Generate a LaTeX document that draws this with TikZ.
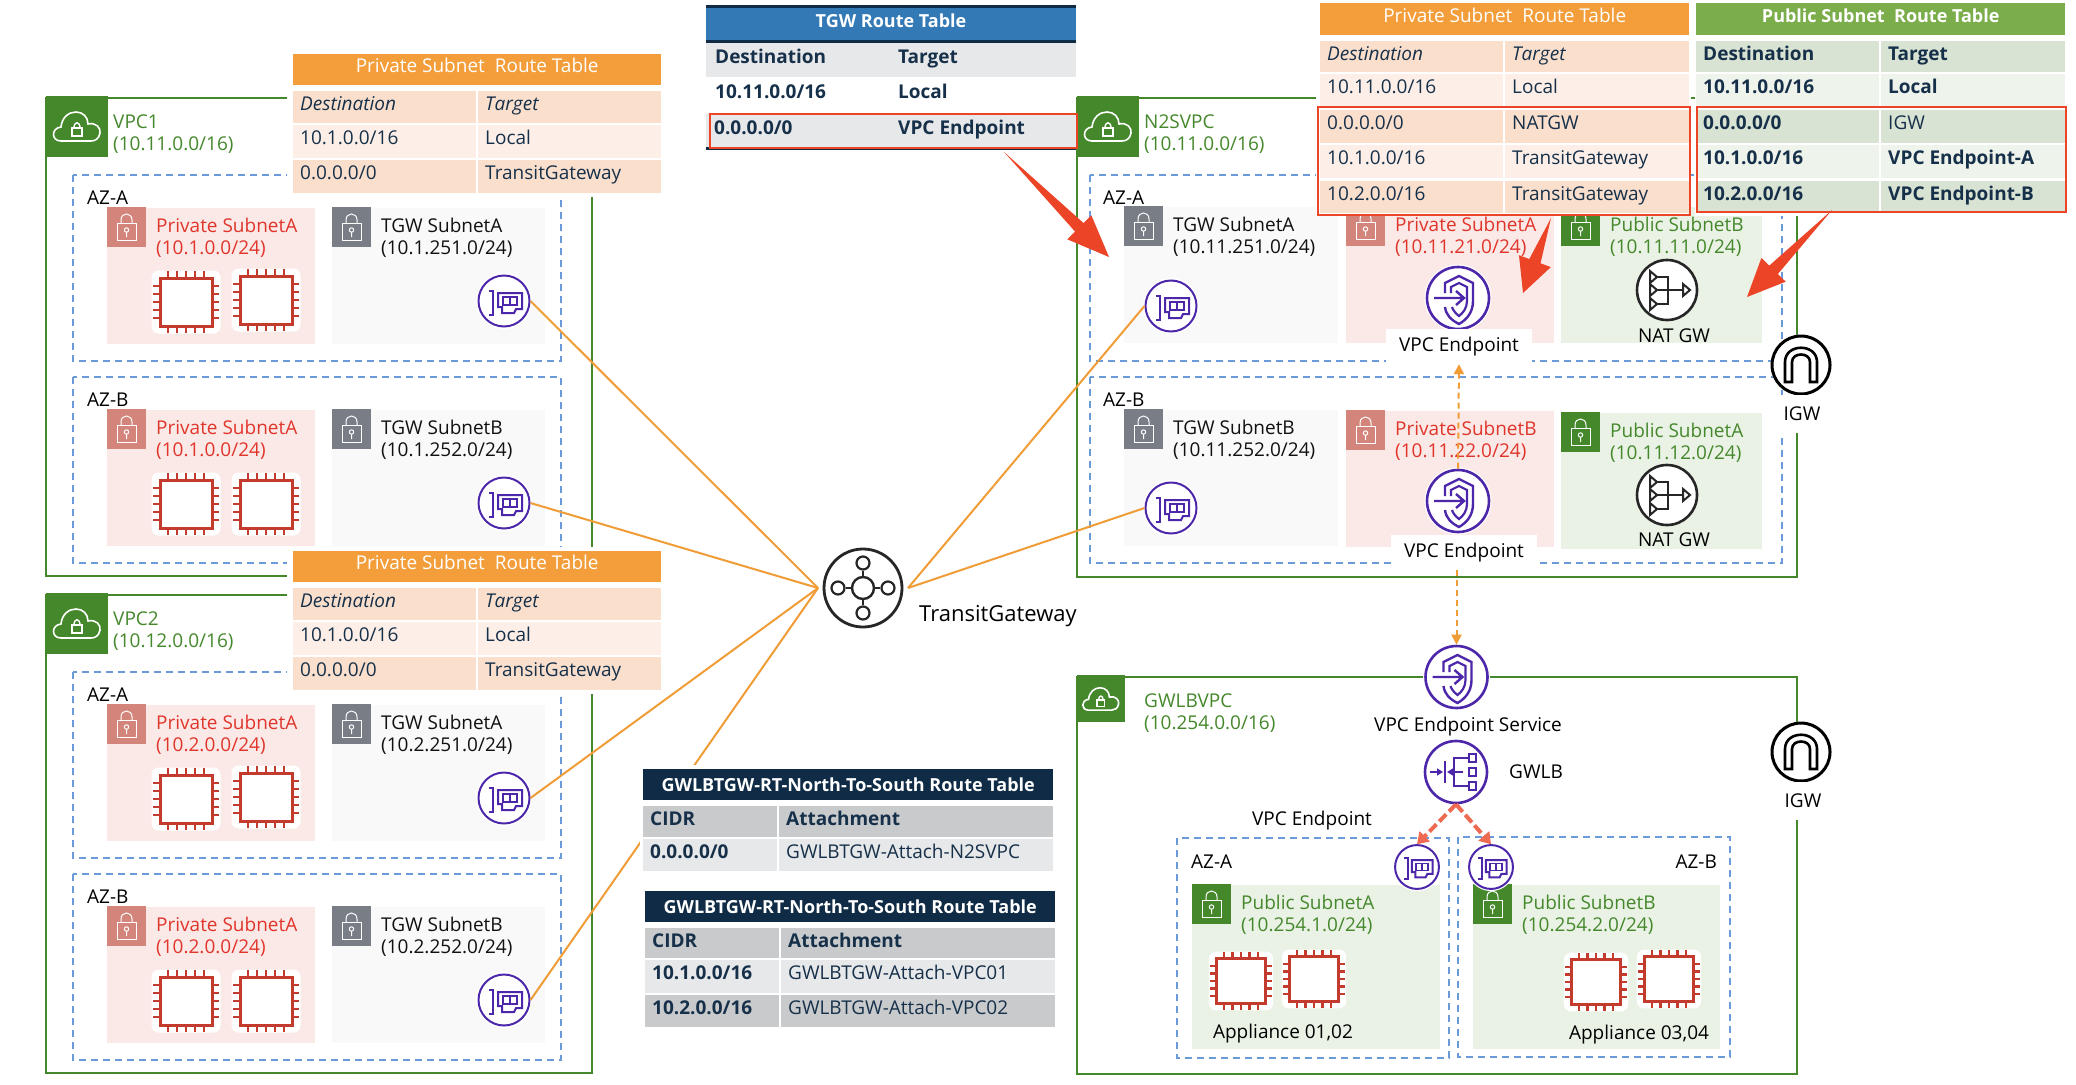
\documentclass[tikz,border=0pt]{standalone}
\usepackage{fontspec}
\setmainfont{Open Sans}
\usetikzlibrary{arrows.meta,calc}

\definecolor{vpcgreen}{HTML}{45882C}
\definecolor{azblue}{HTML}{6A9BD8}
\definecolor{privbg}{HTML}{FBE9E7}
\definecolor{privlock}{HTML}{D3847B}
\definecolor{privtext}{HTML}{E0352B}
\definecolor{tgwbg}{HTML}{F9F9F9}
\definecolor{tgwlock}{HTML}{797D86}
\definecolor{tgwtext}{HTML}{111111}
\definecolor{pubbg}{HTML}{EAF2E6}
\definecolor{publock}{HTML}{45882C}
\definecolor{pubtext}{HTML}{45882C}
\definecolor{eniviolet}{HTML}{4D27AA}
\definecolor{chipred}{HTML}{C23B2C}
\definecolor{linkorange}{HTML}{F09C37}
\definecolor{calloutred}{HTML}{EC4427}
\definecolor{lbred}{HTML}{EE6A52}
\definecolor{rtink}{HTML}{16304A}
\definecolor{orangehead}{HTML}{F39E3A}
\definecolor{orangedark}{HTML}{FADFCD}
\definecolor{orangelight}{HTML}{FDEFE7}
\definecolor{greenhead}{HTML}{7BAD4B}
\definecolor{greendark}{HTML}{D9E3D3}
\definecolor{greenlight}{HTML}{EEF3EB}
\definecolor{tgwhead}{HTML}{3379B5}
\definecolor{navyhead}{HTML}{0F2B45}
\definecolor{greydark}{HTML}{C9CACC}
\definecolor{greylight}{HTML}{E7E8EA}

\tikzset{
  vpcline/.style={draw=vpcgreen, line width=2.6pt},
  azline/.style={draw=azblue, line width=2pt, dash pattern=on 7pt off 5pt},
  linkline/.style={draw=linkorange, line width=2pt},
  flowline/.style={draw=linkorange, line width=2pt, dash pattern=on 6pt off 4pt, -{Triangle[length=10pt,width=10pt]}},
  lbarrow/.style={draw=lbred, line width=4pt, dash pattern=on 10pt off 4pt, -{Triangle[length=11pt,width=14pt]}},
  redframe/.style={draw=calloutred, line width=2.2pt},
  plainlabel/.style={font=\fontsize{19}{22}\selectfont, inner sep=0pt, align=left},
  subnetlabel/.style={plainlabel, anchor=west},
  whitelabel/.style={plainlabel, fill=white, align=center},
  rttext/.style={font=\fontsize{19}{22}\selectfont, text=rtink, inner sep=0pt, anchor=west, text height=14pt, text depth=4pt},
  rtbold/.style={rttext, font=\fontsize{19}{22}\selectfont\bfseries},
  rtitalic/.style={rttext, font=\fontsize{19}{22}\selectfont\itshape},
  rthead/.style={text=white, inner sep=0pt, anchor=north west, font=\fontsize{19}{22}\selectfont},
  rtheadup/.style={rthead, text height=14pt, text depth=8pt},
  rtheadbold/.style={rthead, font=\fontsize{18}{22}\selectfont\bfseries},
  iconcircle/.style={circle, inner sep=0pt, fill=white, transform shape},
  enidraw/.style={draw=eniviolet, line width=2pt},
  darkdraw/.style={draw=black!85, line width=2pt},
}

\newcommand{\vpcbox}[7]{
  \draw[vpcline] (#2,#3) rectangle +(#4,#5);
  \begin{scope}[shift={(#2,#3)}, scale=#6]
    \fill[vpcgreen] (0,-2) rectangle (62,59);
    \begin{scope}[shift={(31,29)}]
      \draw[white, line width=1.6pt] (-16,14) .. controls (-26,14) and (-26,1) .. (-16,0) .. controls (-15,-10) and (-8,-15) .. (-1,-15) .. controls (6,-15) and (11,-10) .. (11,-3) .. controls (19,-5) and (24,1) .. (23,6) .. controls (22,12) and (18,14) .. (14,14) -- cycle;
      \draw[white, line width=1.4pt] (-5,1) rectangle (5,9);
      \draw[white, line width=1.4pt] (-3,1) .. controls (-3,-6) and (3,-6) .. (3,1);
    \end{scope}
  \end{scope}
  \node[subnetlabel, text=vpcgreen] (#1) at ($(#2,#3)+(67,36)$) {#7};
}

\newcommand{\subnetbox}[8]{
  \begin{scope}[shift={(#2,#3)}]
    \fill[#6bg] (0,0) rectangle (#4,#5);
    \fill[#6lock] (0,-1) rectangle (39,39);
    \draw[white, line width=1pt] (10,15) rectangle (29,32);
    \draw[white, line width=1pt] (14,15) -- (14,12) .. controls (14,4) and (25,4) .. (25,12) -- (25,15);
    \draw[white, line width=1pt] (19.5,22) circle (2.2) (19.5,24) -- (19.5,29);
    \node[subnetlabel, text=#6text] (#1) at (49,29.5) {#7\\#8};
  \end{scope}
}

\newcommand{\chipicon}[4]{
  \begin{scope}[shift={(#2,#3)}, scale=#4]
    \node[fill=white, rounded corners=7pt, minimum width=69pt, minimum height=63pt, inner sep=0pt, transform shape] (#1) at (0,0) {};
    \draw[draw=chipred, line width=3pt] (-26,-24) rectangle (26,24);
    \foreach \p in {-18,-9,0,9,18} {
      \draw[draw=chipred, line width=2.4pt] (\p,-24) -- (\p,-31) (\p,24) -- (\p,31);
      \draw[draw=chipred, line width=2.4pt] (-26,0.9*\p) -- (-33,0.9*\p) (26,0.9*\p) -- (33,0.9*\p);
    }
  \end{scope}
}

\newcommand{\eniicon}[4]{
  \begin{scope}[shift={(#2,#3)}, scale=#4]
    \fill[white] (0,0) circle (28);
    \node[iconcircle, enidraw, minimum size=51pt] (#1) at (0,0) {};
    \draw[enidraw] (-15,-10) -- (-11,-10) -- (-11,14) -- (-15,14);
    \draw[enidraw] (-6,-8) -- (18,-8) -- (18,8) -- (12,8) -- (10,12) -- (-2,12) -- (-2,6) -- (-6,6) -- cycle;
    \draw[enidraw, line width=1.5pt] (-1,-4) rectangle (13,4) (6,-4) -- (6,4);
  \end{scope}
}

\newcommand{\vpeicon}[3]{
  \begin{scope}[shift={(#2,#3)}]
    \fill[white] (0,0) circle (33.5);
    \node[iconcircle, enidraw, line width=2.6pt, minimum size=62pt] (#1) at (0,0) {};
    \draw[enidraw, line width=2.4pt] (-13,-5) -- (-13,-15) -- (1,-22) -- (15,-15) -- (15,3) .. controls (15,15) and (8,22) .. (1,26) .. controls (-7,22) and (-12,17) .. (-13,9);
    \draw[enidraw, line width=2.2pt] (-7,-5) -- (-7,-11) -- (1,-15) -- (9,-11) -- (9,3) .. controls (9,10) and (5,15) .. (1,18) .. controls (-3,15) and (-5,12) .. (-6,9);
    \draw[enidraw, line width=2.4pt] (-24,0) -- (5,0) (-2,-7) -- (6,0) -- (-2,7);
  \end{scope}
}

\newcommand{\naticon}[3]{
  \begin{scope}[shift={(#2,#3)}]
    \node[iconcircle, darkdraw, line width=2.6pt, minimum size=60pt] (#1) at (0,0) {};
    \foreach \p in {-13,0,14} {
      \draw[darkdraw] (-17,\p-6) -- (-10,\p) -- (-17,\p+6) -- cycle;
    }
    \draw[darkdraw] (-10,-13) -- (1,-13) -- (1,14) -- (-10,14) (-10,0) -- (16,0);
    \draw[darkdraw] (16,-6) -- (23,0) -- (16,6) -- cycle;
  \end{scope}
}

\newcommand{\igwicon}[3]{
  \begin{scope}[shift={(#2,#3)}]
    \fill[white] (0,0) circle (30.5);
    \node[iconcircle, draw=black, line width=3pt, minimum size=58pt] (#1) at (0,0) {};
    \draw[draw=black, line width=2.6pt] (-9,17) -- (-16,17) -- (-16,-3) .. controls (-16,-22) and (16,-22) .. (16,-3) -- (16,17) -- (9,17) -- (9,-3) .. controls (9,-13) and (-9,-13) .. (-9,-3) -- cycle;
  \end{scope}
}

\newcommand{\gwlbicon}[3]{
  \begin{scope}[shift={(#2,#3)}]
    \node[iconcircle, enidraw, line width=2.6pt, minimum size=62pt] (#1) at (0,0) {};
    \draw[enidraw, -{Triangle[length=6pt,width=7pt]}] (-26,0) -- (-13,0);
    \draw[enidraw, -{Triangle[length=6pt,width=7pt]}] (7,0) -- (-9,0);
    \draw[enidraw] (-11,-11) -- (-11,11);
    \draw[enidraw] (13,-14) -- (-2,-14) -- (-2,14) -- (13,14);
    \draw[enidraw, line width=1.8pt] (13,-18) rectangle (20,-10) (13,-4) rectangle (20,4) (13,10) rectangle (20,18);
  \end{scope}
}

\newcommand{\rtrow}[9]{
  \begin{scope}[shift={(#2)}]
    \fill[#6] (0,0) rectangle (#3,#5);
    \fill[#6] (#3+2,0) rectangle (#3+2+#4,#5);
    \node[#7] (#1d) at (7,14.5) {#8};
    \node[#7] (#1t) at (#3+9,14.5) {#9};
  \end{scope}
}

\newcommand{\leftvpc}[5]{
  \begin{scope}[shift={(0,#2)}]
    \vpcbox{#1box}{46}{98}{546}{478}{1}{#3\\#4}
    \draw[azline] (73,175) rectangle (561,361);
    \draw[azline] (73,377) rectangle (561,563);
    \node[plainlabel, anchor=west] (#1aza) at (87,198) {AZ-A};
    \node[plainlabel, anchor=west] (#1azb) at (87,400) {AZ-B};
    \subnetbox{#1priva}{107}{208}{208}{136}{priv}{Private SubnetA}{(#5.0.0/24)}
    \subnetbox{#1tgwa}{332}{208}{213}{136}{tgw}{TGW SubnetA}{(#5.251.0/24)}
    \subnetbox{#1privb}{107}{410}{208}{136}{priv}{Private SubnetA}{(#5.0.0/24)}
    \subnetbox{#1tgwb}{332}{410}{213}{136}{tgw}{TGW SubnetB}{(#5.252.0/24)}
    \chipicon{#1chipa}{186}{302}{1}
    \chipicon{#1chipb}{266}{300}{1}
    \chipicon{#1chipc}{186}{504}{1}
    \chipicon{#1chipd}{266}{504}{1}
    \eniicon{#1enia}{504}{301}{1}
    \eniicon{#1enib}{504}{503}{1}
  \end{scope}
}

\newcommand{\privtable}[2]{
  \begin{scope}[shift={(0,#2)}]
    \fill[white] (287,50) rectangle (664,197);
    \node[rtheadup, fill=orangehead, minimum width=368pt, minimum height=31pt] (#1head) at (293,54) {Private Subnet\ \ Route Table};
    \rtrow{#1rowa}{293,91}{183}{183}{31.5}{orangedark}{rtitalic}{Destination}{Target}
    \rtrow{#1rowb}{293,124.5}{183}{183}{33.5}{orangelight}{rttext}{10.1.0.0/16}{Local}
    \rtrow{#1rowc}{293,160}{183}{183}{33}{orangedark}{rttext}{0.0.0.0/0}{TransitGateway}
  \end{scope}
}

\begin{document}
\begin{tikzpicture}[x=1pt, y=-1pt]
  \useasboundingbox (0,0) rectangle (2076,1084);
  \fill[white] (0,0) rectangle (2076,1084);

  \leftvpc{vone}{0}{VPC1}{(10.11.0.0/16)}{10.1}
  \leftvpc{vtwo}{497}{VPC2}{(10.12.0.0/16)}{10.2}

  \vpcbox{nvpc}{1077}{98}{720}{479}{1}{N2SVPC\\(10.11.0.0/16)}
  \draw[azline] (1090,175) rectangle (1782,361);
  \draw[azline] (1090,377) rectangle (1782,563);
  \node[plainlabel, anchor=west] (naza) at (1103,198) {AZ-A};
  \node[plainlabel, anchor=west] (nazb) at (1103,400) {AZ-B};
  \subnetbox{ntgwa}{1124}{207}{214}{136}{tgw}{TGW SubnetA}{(10.11.251.0/24)}
  \subnetbox{nprva}{1346}{207}{208}{136}{priv}{Private SubnetA}{(10.11.21.0/24)}
  \subnetbox{npuba}{1561}{207}{201}{136}{pub}{Public SubnetB}{(10.11.11.0/24)}
  \subnetbox{ntgwb}{1124}{410}{214}{136}{tgw}{TGW SubnetB}{(10.11.252.0/24)}
  \subnetbox{nprvb}{1346}{411}{208}{136}{priv}{Private SubnetB}{(10.11.22.0/24)}
  \subnetbox{npubb}{1561}{413}{201}{136}{pub}{Public SubnetA}{(10.11.12.0/24)}
  \eniicon{nenia}{1171}{306}{1}
  \eniicon{nenib}{1171}{508}{1}
  \vpeicon{epa}{1458}{298}
  \vpeicon{epb}{1458}{501}
  \naticon{nata}{1667}{290}
  \naticon{natb}{1667}{495}
  \node[plainlabel] (natalabel) at (1674,336) {NAT GW};
  \node[plainlabel] (natblabel) at (1674,540) {NAT GW};
  \node[whitelabel, minimum width=146pt, minimum height=35pt] (epalabel) at (1459,346.5) {\raisebox{-2.5pt}{VPC Endpoint}};
  \node[whitelabel, minimum width=146pt, minimum height=35pt] (epblabel) at (1464,552.5) {\raisebox{-2.5pt}{VPC Endpoint}};
  \igwicon{igwa}{1801}{365}
  \node[whitelabel, minimum width=44pt, minimum height=38pt] (igwalabel) at (1802,414) {IGW};

  \vpcbox{gvpc}{1077}{677}{720}{397}{0.77}{GWLBVPC\\(10.254.0.0/16)}
  \draw[azline] (1177,838) rectangle (1449,1058);
  \draw[azline] (1458,837) rectangle (1730,1057);
  \node[plainlabel, anchor=west] (gaza) at (1191,862) {AZ-A};
  \node[plainlabel, anchor=east] (gazb) at (1717,862) {AZ-B};
  \subnetbox{gpuba}{1192}{885}{248}{164}{pub}{Public SubnetA}{(10.254.1.0/24)}
  \subnetbox{gpubb}{1473}{885}{247}{164}{pub}{Public SubnetB}{(10.254.2.0/24)}
  \chipicon{gchipa}{1241}{981}{0.93}
  \chipicon{gchipb}{1314}{979}{0.93}
  \chipicon{gchipc}{1596}{982}{0.93}
  \chipicon{gchipd}{1669}{979}{0.93}
  \node[plainlabel] (gappa) at (1283,1034) {Appliance 01,02};
  \node[plainlabel] (gappb) at (1639,1035) {Appliance 03,04};
  \eniicon{genia}{1417}{867}{0.86}
  \eniicon{genib}{1491}{867}{0.86}
  \vpeicon{svc}{1456.5}{677}
  \node[whitelabel] (svclabel) at (1468,727) {VPC Endpoint Service};
  \gwlbicon{gwlb}{1456}{772}
  \node[plainlabel] (gwlblabel) at (1536,772) {GWLB};
  \node[plainlabel] (gvpelabel) at (1312,821) {VPC Endpoint};
  \igwicon{igwb}{1801}{752}
  \node[whitelabel, minimum width=44pt, minimum height=38pt] (igwblabel) at (1803,801) {IGW};

  \node[circle, inner sep=0pt, outer sep=6pt, minimum size=78pt, darkdraw, line width=2.8pt] (tgw) at (863,588) {};
  \node[circle, inner sep=0pt, minimum size=22pt, darkdraw, line width=2.4pt] (tgwhub) at (tgw) {};
  \foreach \a/\b in {0/e,90/n,180/w,270/s} {
    \node[circle, inner sep=0pt, minimum size=13pt, darkdraw, line width=2.2pt, fill=white] (tgwnode\b) at ($(tgw)+(\a:25pt)$) {};
    \draw[darkdraw, line width=2.2pt] (tgwhub) -- (tgwnode\b);
  }
  \node[plainlabel, font=\fontsize{22}{24}\selectfont] (tgwlabel) at (998,616) {TransitGateway};

  \draw[linkline] (voneenia.east) -- (tgw.west);
  \draw[linkline] (voneenib.east) -- (tgw.west);
  \draw[linkline] (vtwoenia.east) -- (tgw.west);
  \draw[linkline] (vtwoenib.east) -- (tgw.west);
  \draw[linkline] (nenia.west) -- (tgw.east);
  \draw[linkline] (nenib.west) -- (tgw.east);
  \draw[flowline] (epb.north) -- (epalabel.south);
  \draw[flowline] (epblabel.south -| svc.north) -- (svc.north);
  \draw[lbarrow] (gwlb.south) -- (genia.north);
  \draw[lbarrow] (gwlb.south) -- (genib.north);

  \privtable{vonert}{0}
  \privtable{vtwort}{497}

  \fill[tgwhead] (706,5) rectangle (1076,43);
  \fill[navyhead] (706,5) rectangle (1076,8);
  \fill[navyhead] (706,40) rectangle (1076,43);
  \node[rtheadbold, anchor=center] (tgwhead) at (891,21) {TGW Route Table};
  \fill[greylight] (706,43) rectangle (1076,77);
  \fill[greylight] (706,113) rectangle (1076,147);
  \fill[navyhead] (706,147) rectangle (1076,150);
  \node[rtbold] (tgwda) at (715,58) {Destination};
  \node[rtbold] (tgwta) at (898,58) {Target};
  \node[rtbold] (tgwdb) at (715,93) {10.11.0.0/16};
  \node[rtbold] (tgwtb) at (898,93) {Local};
  \node[rtbold] (tgwdc) at (714,129) {0.0.0.0/0};
  \node[rtbold] (tgwtc) at (898,129) {VPC Endpoint};
  \draw[redframe] (710,114) rectangle (1077,148);

  \fill[white] (1316,0) rectangle (1691,216);
  \fill[white] (1695,0) rectangle (2070,216);
  \node[rtheadup, fill=orangehead, minimum width=369pt, minimum height=32pt] (nprvhead) at (1320,3) {Private Subnet\ \ Route Table};
  \rtrow{nprva}{1320,41}{183}{184}{31}{orangedark}{rtitalic}{Destination}{Target}
  \rtrow{nprvb}{1320,74}{183}{184}{32}{orangelight}{rttext}{10.11.0.0/16}{Local}
  \rtrow{nprvc}{1320,110}{183}{184}{33}{orangedark}{rttext}{0.0.0.0/0}{NATGW}
  \rtrow{nprvd}{1320,145}{183}{184}{33}{orangelight}{rttext}{10.1.0.0/16}{TransitGateway}
  \rtrow{nprve}{1320,181}{183}{184}{32}{orangedark}{rttext}{10.2.0.0/16}{TransitGateway}
  \draw[redframe] (1318,107) rectangle (1690,215);

  \node[rtheadbold, fill=greenhead, minimum width=369pt, minimum height=32pt, text height=14pt, text depth=8pt] (npubhead) at (1696,3) {Public Subnet\ \ Route Table};
  \rtrow{npuba}{1696,41}{183}{184}{31}{greendark}{rtbold}{Destination}{Target}
  \rtrow{npubb}{1696,74}{183}{184}{32}{greenlight}{rtbold}{10.11.0.0/16}{Local}
  \rtrow{npubc}{1696,110}{183}{184}{33}{greendark}{rtbold}{0.0.0.0/0}{\mdseries IGW}
  \rtrow{npubd}{1696,145}{183}{184}{33}{greenlight}{rtbold}{10.1.0.0/16}{VPC Endpoint-A}
  \rtrow{npube}{1696,181}{183}{184}{32}{greendark}{rtbold}{10.2.0.0/16}{VPC Endpoint-B}
  \draw[redframe] (1697,107) rectangle (2066,212);

  \fill[white] (640,765) rectangle (1056,874);
  \node[rtheadbold, fill=navyhead, minimum width=410pt, minimum height=31pt] (gwone) at (643,769) {GWLBTGW-RT-North-To-South Route Table};
  \rtrow{gwonea}{643,806}{134}{274}{31}{greydark}{rtbold}{CIDR}{Attachment}
  \rtrow{gwoneb}{643,839}{134}{274}{32}{greylight}{rttext}{\bfseries 0.0.0.0/0}{GWLBTGW-Attach-N2SVPC}
  \node[rtheadbold, fill=navyhead, minimum width=410pt, minimum height=31pt] (gwtwo) at (645,891) {GWLBTGW-RT-North-To-South Route Table};
  \rtrow{gwtwoa}{645,928}{134}{274}{30}{greydark}{rtbold}{CIDR}{Attachment}
  \rtrow{gwtwob}{645,960}{134}{274}{33}{greylight}{rttext}{\bfseries 10.1.0.0/16}{GWLBTGW-Attach-VPC01}
  \rtrow{gwtwoc}{645,995}{134}{274}{32}{greydark}{rttext}{\bfseries 10.2.0.0/16}{GWLBTGW-Attach-VPC02}

  \coordinate (tgwtail) at (1004,152);
  \coordinate (tgwtip) at (1109,257);
  \coordinate (prvtail) at (1551,218);
  \coordinate (prvtip) at (1523,293);
  \coordinate (pubtail) at (1832,210);
  \coordinate (pubtip) at (1747,297);
  \foreach \t/\h/\l in {tgwtail/tgwtip/42,prvtail/prvtip/34,pubtail/pubtip/38} {
    \coordinate (base) at ($(\h)!\l pt!(\t)$);
    \fill[calloutred] (\t) -- ($(base)!6pt!90:(\t)$) -- ($(base)!17pt!90:(\t)$) -- (\h) -- ($(base)!17pt!-90:(\t)$) -- ($(base)!6pt!-90:(\t)$) -- cycle;
  }
\end{tikzpicture}
\end{document}
